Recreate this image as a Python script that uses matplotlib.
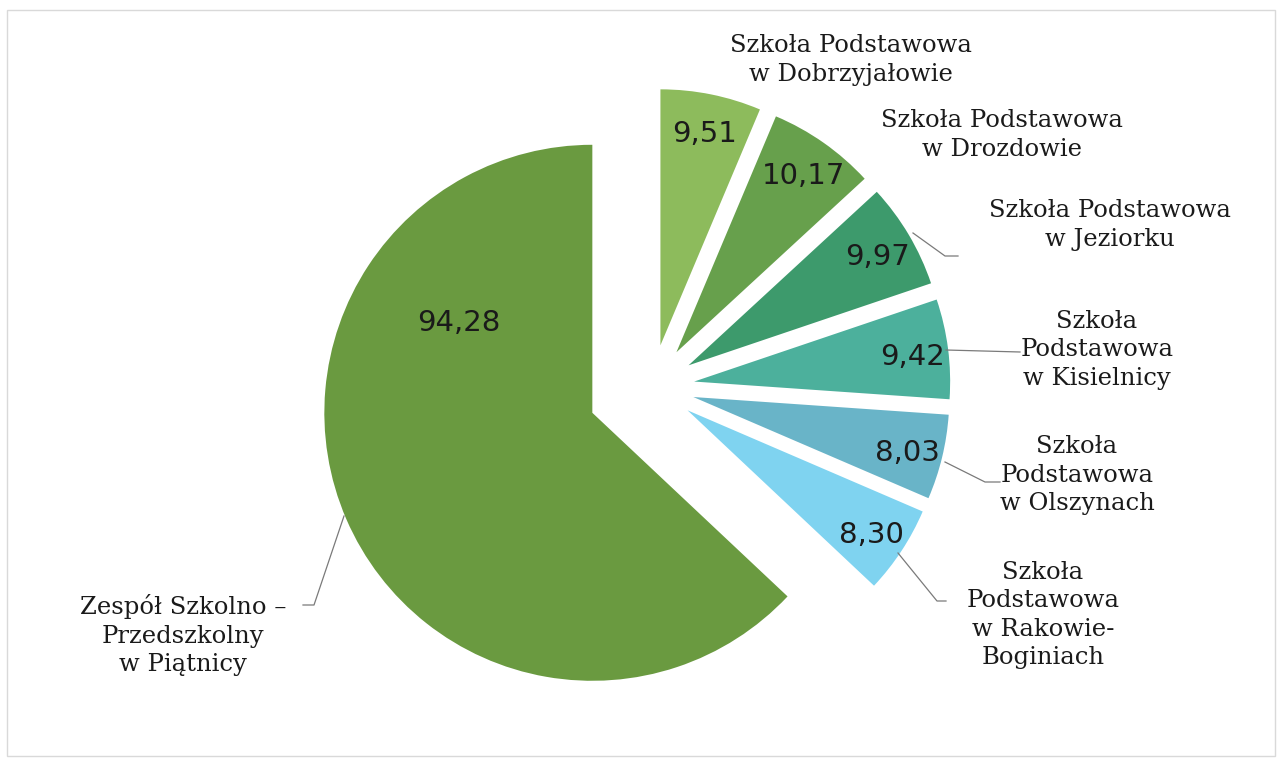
import numpy as np
import matplotlib.pyplot as plt
from matplotlib.patches import Rectangle

# data (clockwise from 12 o'clock)
schools = ['Szkoła Podstawowa\nw Dobrzyjałowie',
           'Szkoła Podstawowa\nw Drozdowie',
           'Szkoła Podstawowa\nw Jeziorku',
           'Szkoła\nPodstawowa\nw Kisielnicy',
           'Szkoła\nPodstawowa\nw Olszynach',
           'Szkoła\nPodstawowa\nw Rakowie-\nBoginiach',
           'Zespół Szkolno –\nPrzedszkolny\nw Piątnicy']
values = [9.51, 10.17, 9.97, 9.42, 8.03, 8.30, 94.28]
value_labels = ['9,51', '10,17', '9,97', '9,42', '8,03', '8,30', '94,28']

colors = ['#8dbb5c', '#67a04c', '#3d9a6c', '#4cb09c', '#69b4c8', '#7fd3f0', '#6a9a40']

W, H = 1283, 760
R = 256
center = (652, H - 387)
explode = [42.5] * 6 + [65]   # pie takes explode in data units


def py(y):
    # picture row -> data y
    return H - y


fig = plt.figure(figsize=(W / 100, H / 100), dpi=100)
ax = fig.add_axes([0, 0, 1, 1])

wedges, _ = ax.pie(values, colors=colors, startangle=90, counterclock=False,
                   explode=explode, radius=R, center=center, frame=True,
                   wedgeprops=dict(linewidth=0))
wedges[-1].set_radius(268)

# values inside the slices
for i, w in enumerate(wedges[:-1]):
    ang = np.deg2rad((w.theta1 + w.theta2) / 2)
    cx, cy = w.center
    r = 0.86 * w.r
    ax.text(cx + r * np.cos(ang), cy + r * np.sin(ang) - 4, value_labels[i],
            ha='center', va='center', fontsize=21, color='#1a1a1a',
            family='DejaVu Sans')
big = wedges[-1]
ang = np.deg2rad(146)
ax.text(big.center[0] + 0.6 * big.r * np.cos(ang),
        big.center[1] + 0.6 * big.r * np.sin(ang), value_labels[-1],
        ha='center', va='center', fontsize=21, color='#1a1a1a',
        family='DejaVu Sans')

# category labels
label_pos = [(851, 60), (1002, 135), (1110, 225), (1097, 350),
             (1077, 475), (1043, 615), (183, 635)]
for name, (x, y) in zip(schools, label_pos):
    ax.text(x, py(y), name, ha='center', va='center', fontsize=17.5,
            family='DejaVu Serif', color='#1a1a1a', linespacing=1.3)

# leader lines
leaders = [
    [(913, 233), (945, 256), (958, 256)],
    [(946, 350), (1020, 352)],
    [(945, 462), (985, 482), (1000, 482)],
    [(898, 553), (937, 601), (946, 601)],
    [(344, 516), (314, 605), (303, 605)],
]
for pts in leaders:
    xs = [p[0] for p in pts]
    ys = [py(p[1]) for p in pts]
    ax.plot(xs, ys, color='#7a7a7a', linewidth=0.9)

# chart border
ax.add_patch(Rectangle((7, py(756)), 1268, 746, fill=False,
                       edgecolor='#d9d9d9', linewidth=1))

ax.set_xlim(0, W)
ax.set_ylim(0, H)
ax.set_aspect('equal')
ax.axis('off')

fig.savefig('out.png', dpi=100)
